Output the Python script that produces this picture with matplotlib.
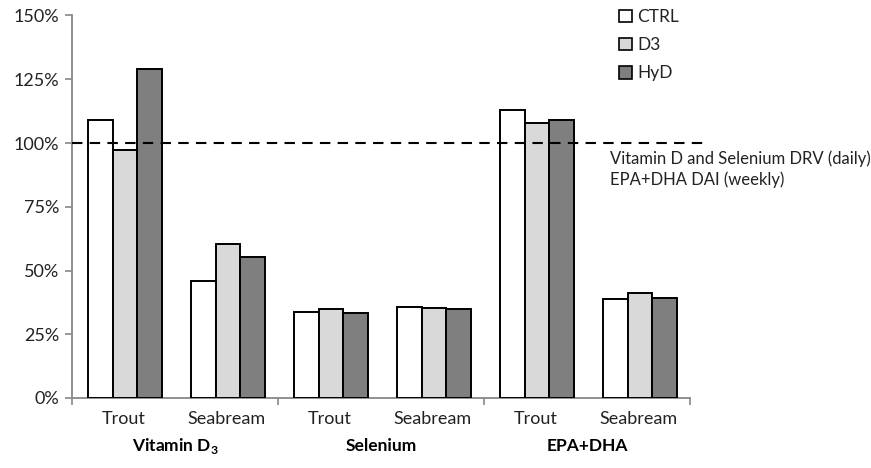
import matplotlib
matplotlib.use("Agg")
import matplotlib.pyplot as plt
from matplotlib.patches import Patch
import numpy as np

plt.rcParams['font.family'] = ['Lato', 'DejaVu Sans']
plt.rcParams['mathtext.fontset'] = 'custom'
plt.rcParams['mathtext.rm'] = 'Lato'
plt.rcParams['mathtext.bf'] = 'Lato:bold'

groups = ["Vitamin D$_{\\mathbf{3}}$", "Selenium", "EPA+DHA"]
categories = ["Trout", "Seabream", "Trout", "Seabream", "Trout", "Seabream"]
series = ["CTRL", "D3", "HyD"]
ctrl = [109.2, 45.8, 33.7, 35.7, 113.1, 38.7]
d3 = [97.4, 60.4, 34.9, 35.3, 107.8, 41.2]
hyd = [128.9, 55.4, 33.2, 34.9, 109.0, 39.1]
values = [ctrl, d3, hyd]
colors = ["#ffffff", "#d9d9d9", "#7f7f7f"]
ref_line = 100
ref_text = "Vitamin D and Selenium DRV (daily)\nEPA+DHA DAI (weekly)"
yticks = [0, 25, 50, 75, 100, 125, 150]

W, H = 871, 468
fig = plt.figure(figsize=(W / 100, H / 100), dpi=100)
ax = fig.add_axes([72 / W, (H - 398) / H, 618 / W, 382.5 / H])

x = np.arange(len(categories))
bw = 0.238
for i, (vals, col, name) in enumerate(zip(values, colors, series)):
    ax.bar(x + (i - 1) * bw + 0.015, vals, width=bw, color=col, edgecolor="black",
           linewidth=1.4, label=name, zorder=3)

ax.set_xlim(-0.5, len(categories) - 0.5)
ax.set_ylim(0, 150)
ax.set_yticks(yticks)
ax.set_yticklabels([f"{v}%" for v in yticks], fontsize=13, color="#222222")
ax.tick_params(axis="y", length=5, color="#888888", width=1.2, pad=4)
ax.set_xticks([-0.5, 1.5, 3.5, 5.5])
ax.set_xticklabels([])
ax.tick_params(axis="x", length=5, color="#888888", width=1.2, direction="out")
for s in ["top", "right"]:
    ax.spines[s].set_visible(False)
for s in ["left", "bottom"]:
    ax.spines[s].set_color("#888888")
    ax.spines[s].set_linewidth(1.3)

# category labels
for xi, c in zip(x, categories):
    ax.text(xi, -0.055, c, transform=ax.get_xaxis_transform(), ha="center",
            va="center", fontsize=13, color="#222222")
for gi, g in enumerate(groups):
    ax.text(2 * gi + 0.5, -0.125, g, transform=ax.get_xaxis_transform(), ha="center",
            va="center", fontsize=12.5, fontweight="bold", color="black")

# reference line
ax.plot([-0.5, 5.67], [ref_line, ref_line], color="black", linestyle=(0, (5, 3.5)),
        linewidth=1.5, clip_on=False, zorder=4)
fig.text(610 / W, 1 - 169 / H, ref_text, ha="left", va="center", fontsize=12,
         color="#222222", linespacing=1.35)

handles = [Patch(facecolor=c, edgecolor="black", linewidth=1.2, label=n)
           for c, n in zip(colors, series)]
fig.legend(handles=handles, loc="upper left", bbox_to_anchor=(612 / W, 1 - 2 / H),
           frameon=False, fontsize=12.5, handlelength=0.75, handleheight=0.75,
           handletextpad=0.3, labelspacing=0.7, borderaxespad=0, labelcolor="#222222")

fig.savefig("out.png", dpi=100)
